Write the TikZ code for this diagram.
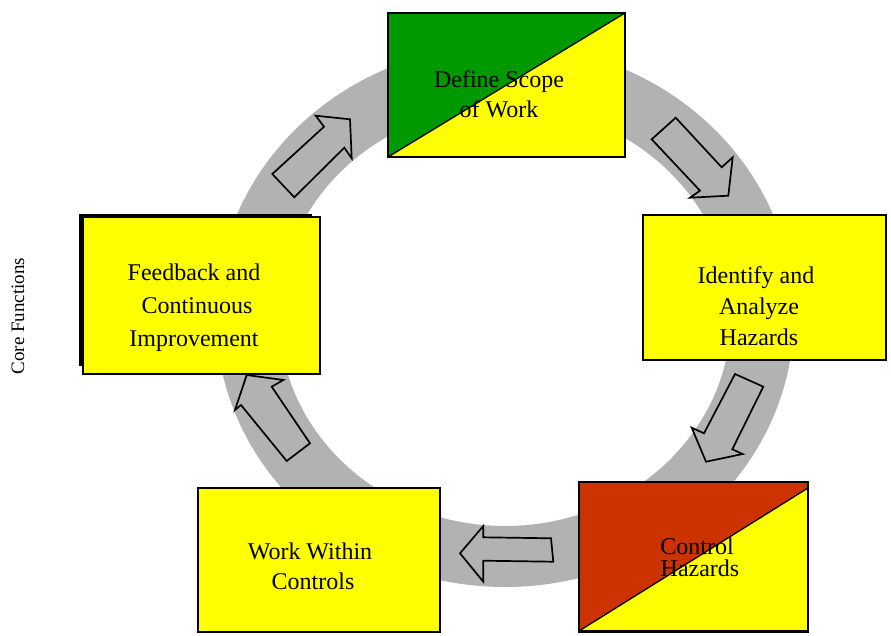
\documentclass[tikz,border=0pt]{standalone}
\usepackage{fontspec}
\setmainfont{Liberation Serif}
\usetikzlibrary{calc}
\definecolor{ringgray}{RGB}{178,178,178}
\definecolor{sgreen}{RGB}{0,153,0}
\definecolor{syellow}{RGB}{255,255,0}
\definecolor{sred}{RGB}{204,51,0}
\begin{document}
\begin{tikzpicture}[x=1pt,y=-1pt,
  box/.style={draw=black, line width=1.8pt, fill=syellow, inner sep=0pt},
  lbl/.style={font=\fontsize{24}{30}\selectfont, align=center, inner sep=0pt},
  blockarrow/.style={draw=black, line width=1.7pt, line join=miter, fill=ringgray}]
\useasboundingbox (0,0) rectangle (891,635);
% ring
\fill[ringgray, even odd rule] (505,316) ellipse [x radius=289pt, y radius=271pt]
  (505,316) ellipse [x radius=226pt, y radius=210pt];
% block arrows
\draw[blockarrow] (272.3,174) -- (294.3,197.3) -- (344.3,147.7) -- (351.7,158.3)
  -- (350,119.3) -- (315.7,115.7) -- (324,126.7) -- cycle;
\draw[blockarrow] (675.7,117.7) -- (721.7,167.3) -- (732.7,157.3) -- (728.3,195.7)
  -- (690,197.7) -- (700,190.7) -- (651.7,139.3) -- cycle;
\draw[blockarrow] (735,374) -- (763.3,386.7) -- (732.3,449.3) -- (742.7,454)
  -- (706,461.7) -- (691.7,427.7) -- (704,433.3) -- cycle;
\draw[blockarrow] (460,553.3) -- (483.3,526) -- (483.3,537.3) -- (551,538.3)
  -- (553.3,561.7) -- (483.3,560.7) -- (483.3,581.7) -- cycle;
\draw[blockarrow] (246.7,375) -- (283.3,380) -- (271.7,386.7) -- (310,443.3)
  -- (286.7,461) -- (241,405) -- (235,410) -- cycle;
% boxes
\node[box, line width=2.6pt, minimum width=237pt, minimum height=144pt,
  path picture={
    \fill[sgreen] (path picture bounding box.north west) -- (path picture bounding box.north east)
      -- (path picture bounding box.south west) -- cycle;
    \draw[line width=1.3pt] (path picture bounding box.south west) -- (path picture bounding box.north east);}]
  (scope) at (506.5,85) {};
\node[box, minimum width=243pt, minimum height=145pt] (identify) at (764.5,287.5) {};
\node[box, minimum width=229pt, minimum height=149pt,
  path picture={
    \fill[sred] (path picture bounding box.north west) -- (path picture bounding box.north east)
      -- ($(path picture bounding box.north east)+(0,6)$) -- (path picture bounding box.south west) -- cycle;
    \draw[line width=1.3pt] (path picture bounding box.south west) -- ($(path picture bounding box.north east)+(0,6)$);}]
  (control) at (693.5,556.5) {};
\draw[line width=2.2pt] (control.south west) -- (control.south east);
\node[box, minimum width=242pt, minimum height=144pt] (work) at (319,560) {};
\fill[black] (79,214) rectangle (312,366);
\node[box, minimum width=237pt, minimum height=157pt] (feedback) at (201.5,295.5) {};
% labels
\node[lbl] (tscope) at (499,94) {Define Scope\\of Work};
\node[lbl, font=\fontsize{24}{31}\selectfont] (tidentify) at (756,306) {Identify and\\\ Analyze\\\ Hazards};
\node[lbl, font=\fontsize{24}{22}\selectfont] (tcontrol) at (697,557) {Control\\\ Hazards};
\node[lbl] (twork) at (310,566) {Work Within\\\ Controls};
\node[lbl, font=\fontsize{24}{33}\selectfont] (tfeedback) at (194,308) {Feedback and\\\ Continuous\\Improvement};
\node[font=\fontsize{19}{22}\selectfont, rotate=90, inner sep=0pt] (core) at (18,316) {Core Functions};
\end{tikzpicture}
\end{document}
